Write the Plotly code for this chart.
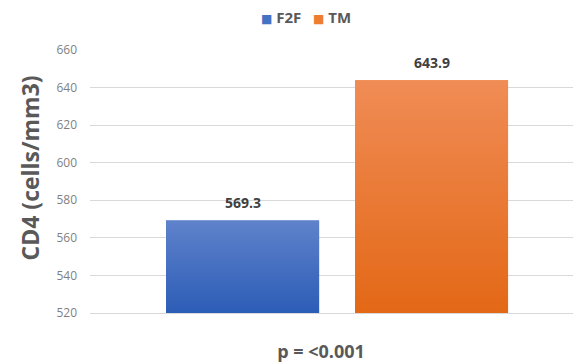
import plotly.graph_objects as go

# Chart data
groups = ["F2F", "TM"]
cd4_means = [569.3, 643.9]
bar_positions = [-0.2, 0.2]
x_label = "p = <0.001"
y_ticks = [520, 540, 560, 580, 600, 620, 640, 660]

# Styling
solid_colors = ["#4472C4", "#ED7D31"]
gradient_stops = [("#2C5DB6", "#5F82CB"), ("#E36816", "#F08C56")]
bar_width = 0.324
y_floor = 520
y_top = 660
text_dark = "#404040"
text_mid = "#595959"
grid_color = "#D9D9D9"
font_family = "Open Sans, DejaVu Sans, sans-serif"

fig = go.Figure()

# Solid bars
for name, pos, val, col in zip(groups, bar_positions, cd4_means, solid_colors):
    fig.add_trace(go.Bar(
        name=name, x=[pos], y=[val - y_floor], base=[y_floor], width=bar_width,
        marker=dict(color=col, line=dict(width=0)),
        showlegend=False, hoverinfo="skip",
    ))

# Vertical gradient overlay on each bar
for pos, val, (bottom, top) in zip(bar_positions, cd4_means, gradient_stops):
    x0, x1 = pos - bar_width / 2, pos + bar_width / 2
    fig.add_trace(go.Scatter(
        x=[x0, x0, x1, x1, x0], y=[y_floor, val, val, y_floor, y_floor],
        mode="lines", line=dict(width=0), fill="toself",
        fillgradient=dict(type="vertical", colorscale=[[0, bottom], [1, top]],
                          start=y_floor, stop=val),
        showlegend=False, hoverinfo="skip",
    ))

# Compact legend row: coloured square swatch + bold series name
legend_parts = [
    f"<span style='color:{col};font-size:12px'>■</span> <b>{name}</b>"
    for name, col in zip(groups, solid_colors)
]
fig.add_annotation(
    x=0.447, y=1.125, xref="paper", yref="paper",
    text="&nbsp;&nbsp;&nbsp;".join(legend_parts), showarrow=False,
    xanchor="center", yanchor="middle",
    font=dict(family=font_family, size=15, color=text_mid),
)

# Value labels above the bars
for pos, val in zip(bar_positions, cd4_means):
    fig.add_annotation(
        x=pos, y=val, xref="x", yref="y", text=f"<b>{val:.1f}</b>",
        showarrow=False, yanchor="bottom", yshift=6,
        font=dict(family=font_family, size=14, color=text_dark),
    )

# Y axis title
fig.add_annotation(
    x=-0.124, y=0.55, xref="paper", yref="paper",
    text="<b>CD4 (cells/mm3)</b>", textangle=-90, showarrow=False,
    xanchor="center", yanchor="middle",
    font=dict(family=font_family, size=23, color=text_mid),
)

fig.update_layout(
    width=573, height=364,
    margin=dict(l=90, r=0, t=50, b=51),
    paper_bgcolor="white", plot_bgcolor="white",
    barmode="overlay",
    showlegend=False,
    xaxis=dict(
        range=[-0.523, 0.4995], tickvals=[0], ticktext=[f"<b>{x_label}</b>"],
        showgrid=False, zeroline=False, showline=True, linecolor=grid_color,
        linewidth=1, ticks="", ticklabelshift=-16, ticklabelstandoff=22,
        tickfont=dict(family=font_family, size=18, color=text_mid),
    ),
    yaxis=dict(
        range=[y_floor, y_top], tickvals=y_ticks, showgrid=True,
        gridcolor=grid_color, gridwidth=1, zeroline=False, showline=False,
        ticks="", ticklabelstandoff=12,
        tickfont=dict(family=font_family, size=12, color="#7F7F7F"),
    ),
)

fig.write_html("out.html")
